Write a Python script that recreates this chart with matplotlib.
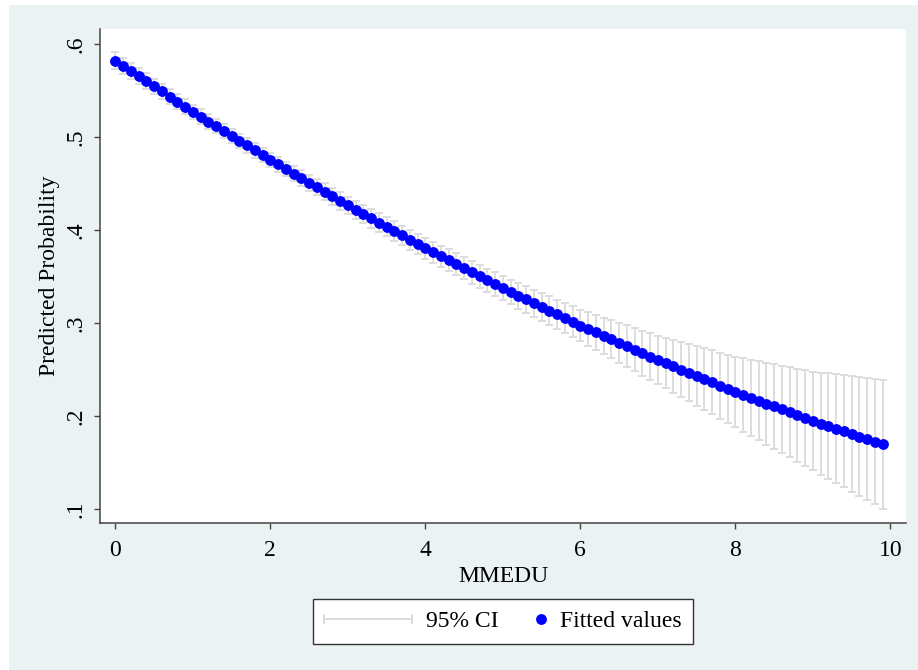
import numpy as np
import matplotlib
matplotlib.use("Agg")
import matplotlib.pyplot as plt
from matplotlib.lines import Line2D
from matplotlib.patches import Rectangle
from matplotlib.legend_handler import HandlerBase

plt.rcParams['font.family'] = ['Liberation Serif', 'DejaVu Serif']

# MMEDU from 0 to 9.9 in steps of .1
mmedu = np.round(np.arange(100) * 0.1, 1)

# fitted predicted probability
fitted = [
    0.582, 0.5765, 0.571, 0.5655, 0.560, 0.5545, 0.549, 0.5435, 0.538, 0.5325,
    0.527, 0.5219, 0.5167, 0.5116, 0.5064, 0.5013, 0.4961, 0.491, 0.4858, 0.4807,
    0.4755, 0.4706, 0.4657, 0.4608, 0.4559, 0.451, 0.4461, 0.4412, 0.4363, 0.4314,
    0.4265, 0.4219, 0.4173, 0.4127, 0.4081, 0.4035, 0.3989, 0.3943, 0.3897, 0.3851,
    0.3805, 0.3762, 0.3719, 0.3676, 0.3633, 0.359, 0.3547, 0.3504, 0.3461, 0.3418,
    0.3375, 0.3335, 0.3295, 0.3255, 0.3215, 0.3175, 0.3135, 0.3095, 0.3055, 0.3015,
    0.2975, 0.2938, 0.2901, 0.2864, 0.2827, 0.279, 0.2753, 0.2716, 0.2679, 0.2642,
    0.2605, 0.2571, 0.2536, 0.2502, 0.2467, 0.2433, 0.2398, 0.2364, 0.2329, 0.2295,
    0.226, 0.2229, 0.2198, 0.2167, 0.2136, 0.2105, 0.2074, 0.2043, 0.2012, 0.1981,
    0.195, 0.1922, 0.1894, 0.1866, 0.1838, 0.181, 0.1782, 0.1754, 0.1726, 0.1698,
]

# half width of the 95% CI
ci_half = [
    0.0090, 0.0089, 0.0087, 0.0086, 0.0085, 0.0083, 0.0082, 0.0081, 0.0080, 0.0079,
    0.0078, 0.0078, 0.0077, 0.0077, 0.0077, 0.0077, 0.0077, 0.0077, 0.0078, 0.0078,
    0.0078, 0.0079, 0.0080, 0.0082, 0.0083, 0.0085, 0.0087, 0.0089, 0.0091, 0.0093,
    0.0095, 0.0096, 0.0098, 0.0099, 0.0101, 0.0102, 0.0104, 0.0105, 0.0107, 0.0108,
    0.0110, 0.0112, 0.0114, 0.0116, 0.0118, 0.0120, 0.0122, 0.0124, 0.0126, 0.0128,
    0.0130, 0.0134, 0.0138, 0.0142, 0.0146, 0.0150, 0.0154, 0.0158, 0.0162, 0.0166,
    0.0170, 0.0179, 0.0188, 0.0197, 0.0206, 0.0215, 0.0224, 0.0233, 0.0242, 0.0251,
    0.0260, 0.0272, 0.0284, 0.0296, 0.0308, 0.0320, 0.0332, 0.0344, 0.0356, 0.0368,
    0.0380, 0.0395, 0.0410, 0.0425, 0.0440, 0.0455, 0.0470, 0.0485, 0.0500, 0.0515,
    0.0530, 0.0548, 0.0566, 0.0584, 0.0602, 0.0620, 0.0638, 0.0656, 0.0674, 0.0690,
]

xticks = [0, 2, 4, 6, 8, 10]
yticks = [0.1, 0.2, 0.3, 0.4, 0.5, 0.6]
ytick_labels = ['.1', '.2', '.3', '.4', '.5', '.6']

BG = '#eaf2f3'
CI_COL = '#dddddd'
DOT_COL = '#0000ff'
FS = 17


class CapLineHandler(HandlerBase):
    # wide rcap-style legend key: grey line with caps at both ends
    def legend_artist(self, legend, orig_handle, fontsize, handlebox):
        line_len = 3.7 * fontsize
        handlebox.width = line_len + 0.3 * fontsize
        y = (handlebox.height - handlebox.ydescent) / 2
        ln = Line2D([0, line_len], [y, y], color=CI_COL, lw=1.4,
                    marker='|', markersize=7, markeredgewidth=1.4)
        handlebox.add_artist(ln)
        return ln


fig = plt.figure(figsize=(9.18, 6.70), dpi=100)
fig.patch.set_facecolor('white')
fig.add_artist(Rectangle((9 / 918, 0), 1, 1 - 5 / 670, transform=fig.transFigure,
                         facecolor=BG, edgecolor='none', zorder=-10))

ax = fig.add_axes([100 / 918, 1 - 523 / 670, 806 / 918, 494 / 670])
ax.set_facecolor('white')

ax.errorbar(mmedu, fitted, yerr=ci_half, fmt='none', ecolor=CI_COL,
            elinewidth=1.4, capsize=3.2, capthick=1.4, zorder=2)
ax.plot(mmedu, fitted, linestyle='none', marker='o', markersize=7.8,
        color=DOT_COL, markeredgewidth=0, zorder=3)

ax.set_xlim(-0.197, 10.203)
ax.set_ylim(0.0853, 0.6161)
ax.set_xticks(xticks)
ax.set_yticks(yticks)
ax.set_yticklabels(ytick_labels, rotation=90, va='center')

for side in ['top', 'right']:
    ax.spines[side].set_visible(False)
for side in ['left', 'bottom']:
    ax.spines[side].set_color('#444444')
    ax.spines[side].set_linewidth(1.1)
ax.tick_params(axis='both', direction='out', length=4.5, width=1.0,
               color='#444444', labelsize=FS)
ax.tick_params(axis='x', pad=8)
ax.tick_params(axis='y', pad=5)

ax.set_xlabel('MMEDU', fontsize=FS, labelpad=3)
ax.set_ylabel('Predicted Probability', fontsize=FS, labelpad=4)

ci_handle = Line2D([], [], color=CI_COL)
dot_handle = Line2D([], [], linestyle='none', marker='o', markersize=7.8,
                    color=DOT_COL, markeredgewidth=0)
leg = fig.legend([ci_handle, dot_handle], ['95% CI', 'Fitted values'],
                 loc='upper center', bbox_to_anchor=(503 / 918, 1 - 587 / 670),
                 ncol=2, fontsize=FS, frameon=True, fancybox=False,
                 handlelength=1.0, handletextpad=0.3, columnspacing=1.3,
                 borderpad=0.5, handler_map={ci_handle: CapLineHandler()})
leg.get_frame().set_edgecolor('#333333')
leg.get_frame().set_linewidth(1.0)
leg.get_frame().set_facecolor('white')
leg.get_frame().set_alpha(1)

fig.savefig('out.png', dpi=100, facecolor=fig.get_facecolor())
